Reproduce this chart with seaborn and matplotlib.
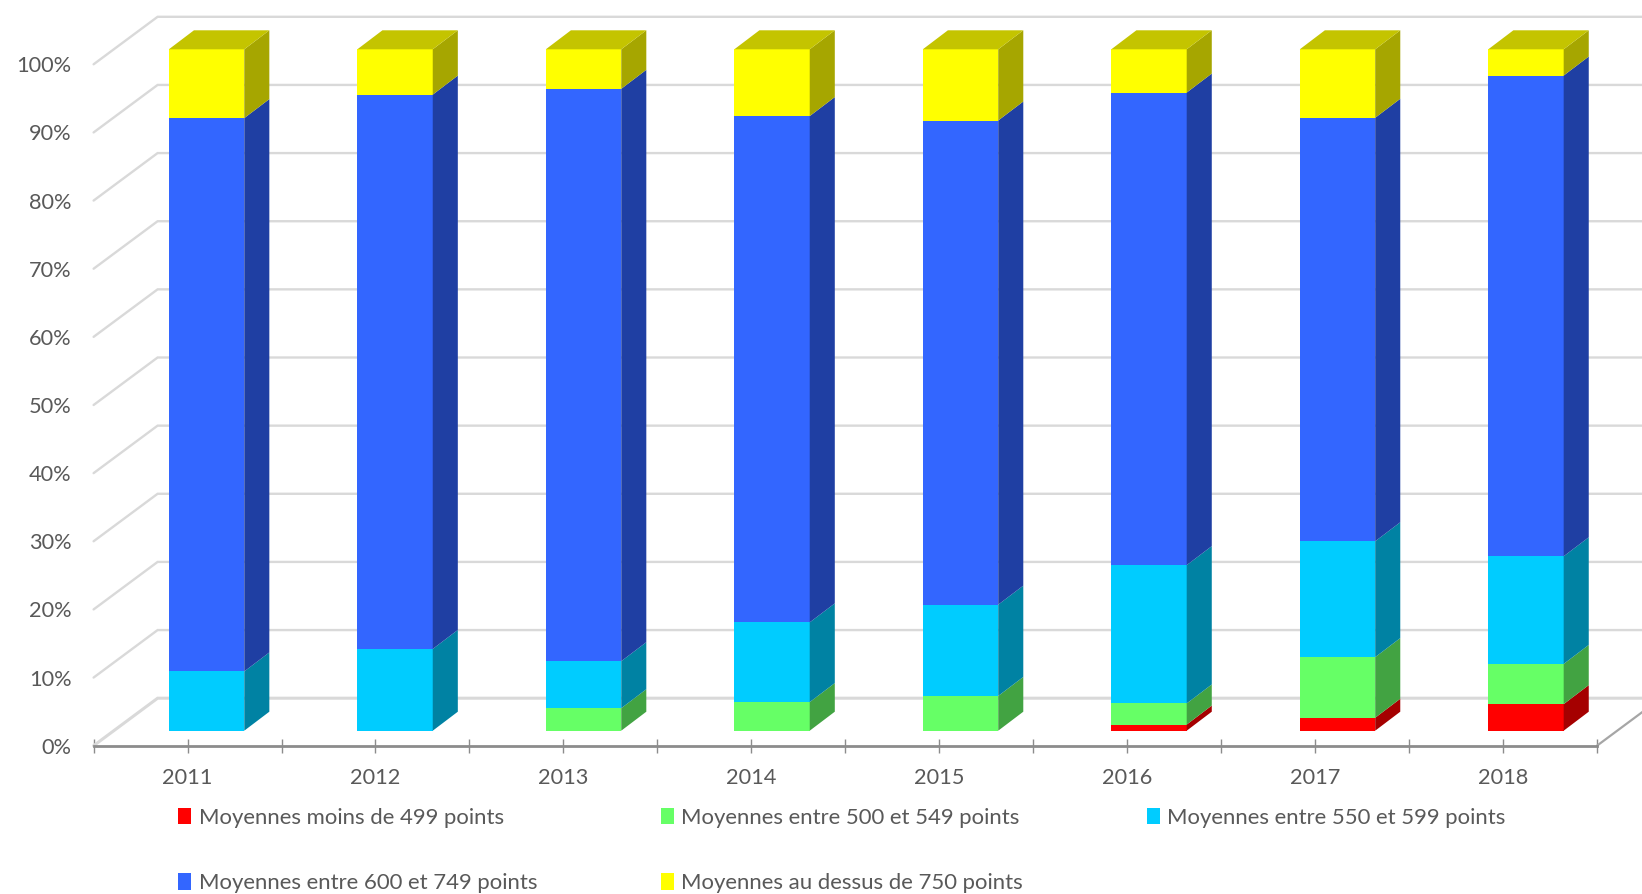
import matplotlib
matplotlib.use("Agg")
import matplotlib.pyplot as plt
import matplotlib.transforms as mtrans
from matplotlib.patches import Patch
import numpy as np
import pandas as pd
import seaborn as sns

years = ["2011", "2012", "2013", "2014", "2015", "2016", "2017", "2018"]
moins_499 = [0, 0, 0, 0, 0, 0.9, 1.9, 3.9]
de_500_549 = [0, 0, 3.3, 4.2, 5.1, 3.1, 8.9, 5.9]
de_550_599 = [8.7, 12.0, 6.9, 11.7, 13.4, 20.3, 17.0, 15.8]
de_600_749 = [81.2, 81.35, 84.0, 74.3, 71.05, 69.35, 62.15, 70.55]
dessus_750 = [10.1, 6.65, 5.8, 9.8, 10.45, 6.35, 10.05, 3.85]

series_names = ["Moyennes moins de 499 points", "Moyennes entre 500 et 549 points",
                "Moyennes entre 550 et 599 points", "Moyennes entre 600 et 749 points",
                "Moyennes au dessus de 750 points"]
series_vals = [moins_499, de_500_549, de_550_599, de_600_749, dessus_750]
face_cols = ["#FF0000", "#66FF66", "#00CCFF", "#3366FF", "#FFFF00"]
side_cols = ["#A50000", "#42A342", "#0082A3", "#1F3FA3", "#A6A600"]
top_col = "#C4C400"

sns.set_theme(style="white")
plt.rcParams["font.family"] = ["Lato", "DejaVu Sans"]
W, H = 1642, 894
fig = plt.figure(figsize=(W / 100, H / 100), dpi=100)
L, R, B, T = 93.6, 1597, 745.7, 64.3
ax = fig.add_axes([L / W, 1 - B / H, (R - L) / W, (B - T) / H])
ax.set_facecolor("none")

px_x = (R - L) / 8
px_y = (B - T) / 100
tx = lambda p: p / px_x
ty = lambda p: p / px_y

df = pd.DataFrame(dict(zip(series_names, series_vals)), index=years)
cum = df.cumsum(axis=1)
long_df = cum.reset_index(names="year")

# bars stand on a plane slightly behind the front edge, hence the slight x scale
bar_tr = (mtrans.Affine2D().scale(1.003, 1) + ax.transData
          + mtrans.ScaledTranslation(19 / 100, 15 / 100, fig.dpi_scale_trans))
for name, col in list(zip(series_names, face_cols))[::-1]:
    sns.barplot(data=long_df, x="year", y=name, color=col, saturation=1, width=0.4,
                linewidth=0, ax=ax, zorder=3)
for p in ax.patches:
    p.set_transform(bar_tr)
    p.set_clip_on(False)

bw = 0.4
ddx, ddy = tx(25), ty(19)
for j, name in enumerate(series_names):
    tops = cum[name].values
    bots = tops - df[name].values
    for i in range(len(years)):
        if df[name].values[i] <= 0:
            continue
        xr = i + bw / 2
        ax.fill([xr, xr + ddx, xr + ddx, xr],
                [bots[i], bots[i] + ddy, tops[i] + ddy, tops[i]],
                color=side_cols[j], lw=0, transform=bar_tr, clip_on=False, zorder=3)
for i in range(len(years)):
    xl, xr = i - bw / 2, i + bw / 2
    h = cum[series_names[-1]].values[i]
    ax.fill([xl, xr, xr + ddx, xl + ddx], [h, h, h + ddy, h + ddy],
            color=top_col, lw=0, transform=bar_tr, clip_on=False, zorder=3)

gx0 = -0.5
gdx, gdy = tx(64), ty(47.5)
xend = 7.5 + tx(W - R + 2)
grid_col = "#D9D9D9"
for v in range(0, 101, 10):
    ax.plot([gx0, gx0 + gdx, xend], [v, v + gdy, v + gdy], color=grid_col,
            lw=2.2 if v == 0 else 1.7, clip_on=False, zorder=1, solid_joinstyle="miter")
ax.plot([7.5, xend], [0, ty((W - R + 2) * 47.5 / 64)],
        color="#A6A6A6", lw=1.6, clip_on=False, zorder=1)

ax.set_xlim(-0.5, 7.5)
ax.set_ylim(0, 100)
ax.set_xlabel("")
ax.set_ylabel("")
ax.set_yticks(range(0, 101, 10))
ax.set_yticklabels([f"{v}%" for v in range(0, 101, 10)])
ax.set_xticks(np.arange(-0.5, 8, 1), minor=True)
ax.tick_params(axis="y", length=0, pad=16, labelsize=15.7, labelcolor="#595959")
ax.tick_params(axis="x", which="both", bottom=True, direction="inout", length=10.5, width=1,
               color="#8C8C8C", labelsize=15.7, labelcolor="#595959", pad=11)
for s in ("top", "right", "left"):
    ax.spines[s].set_visible(False)
ax.spines["bottom"].set_color("#8C8C8C")
ax.spines["bottom"].set_linewidth(2)
ax.spines["bottom"].set_zorder(2)

order = [0, 3, 1, 4, 2]
handles = [Patch(facecolor=face_cols[k], edgecolor="none", label=series_names[k]) for k in order]
fig.legend(handles=handles, ncol=3, frameon=False, fontsize=15.9, labelcolor="#595959",
           loc="upper left", bbox_to_anchor=(178 / W, 1 - 808 / H),
           bbox_transform=fig.transFigure, borderaxespad=0, borderpad=0,
           handlelength=0.61, handleheight=0.75, handletextpad=0.32,
           columnspacing=5.6, labelspacing=2.05)

fig.savefig("out.png", dpi=100)
